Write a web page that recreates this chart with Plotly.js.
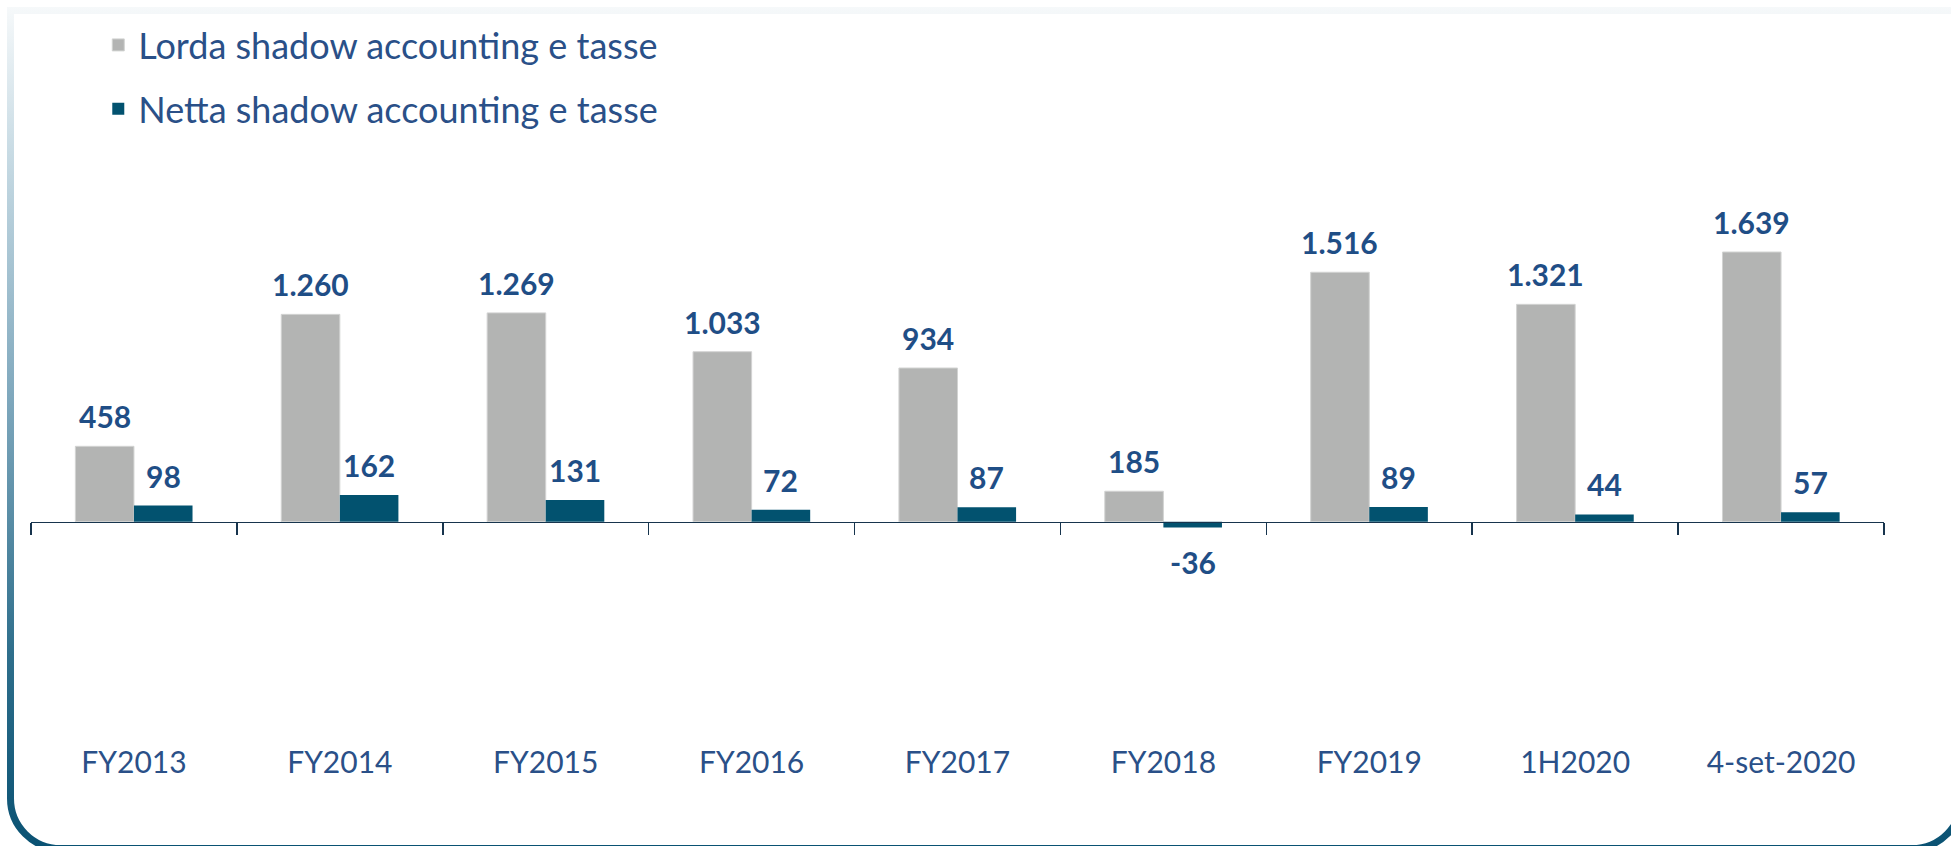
<!DOCTYPE html>
<html><head><meta charset="utf-8">
<script src="https://cdn.plot.ly/plotly-3.0.1.min.js"></script>
<style>
html,body{margin:0;padding:0;background:#fff;}
#wrap{position:relative;width:1951px;height:846px;overflow:hidden;}
#frame{position:absolute;left:0;top:0;}
#chart{position:absolute;left:0;top:0;width:1951px;height:846px;}
</style></head><body>
<div id="wrap">
<svg id="frame" width="1951" height="846" xmlns="http://www.w3.org/2000/svg">
  <defs>
    <linearGradient id="fg" gradientUnits="userSpaceOnUse" x1="0" y1="0" x2="0" y2="846">
      <stop offset="0" stop-color="#f8fafb"/>
      <stop offset="0.18" stop-color="#c8dbe4"/>
      <stop offset="0.47" stop-color="#7fa8bd"/>
      <stop offset="0.77" stop-color="#2f6f8c"/>
      <stop offset="1" stop-color="#0a5273"/>
    </linearGradient>
  </defs>
  <path d="M1962,10.5 H10.5 V798.5 A50,50 0 0 0 60.5,848.5 H1912 A50,50 0 0 0 1962,798.5 Z" fill="none" stroke="url(#fg)" stroke-width="7"/>
</svg>
<div id="chart"></div>
</div>
<script>
// ---- data ----
const categories = ['FY2013','FY2014','FY2015','FY2016','FY2017','FY2018','FY2019','1H2020','4-set-2020'];
const lorda = [458, 1260, 1269, 1033, 934, 185, 1516, 1321, 1639];
const netta = [98, 162, 131, 72, 87, -36, 89, 44, 57];
const seriesNames = ['Lorda shadow accounting e tasse', 'Netta shadow accounting e tasse'];
const seriesColors = ['#B3B4B3', '#02526F'];

// ---- layout constants ----
const W = 1951, H = 846;
const M = {l: 30.7, r: 66.7, t: 10, b: 106};
const BARGAP = 0.431;
const barW = (1 - BARGAP) / 2;
const yRange = [-1327, 3110];
const zeroFrac = (0 - yRange[0]) / (yRange[1] - yRange[0]);
const plotW = W - M.l - M.r, plotH = H - M.t - M.b;
const labelColor = '#1F4E86';
const tickColor = '#2A5088';
const FONT = 'Lato, "Open Sans", sans-serif';

function fmt(v) {
  const s = String(Math.abs(v)).replace(/\B(?=(\d{3})+(?!\d))/g, '.');
  return (v < 0 ? '-' : '') + s;
}

const traces = [
  {
    type: 'bar', name: seriesNames[0], x: categories, y: lorda,
    marker: {color: seriesColors[0], line: {color: '#d2d3d2', width: 1}},
    legendgroup: 'a', hoverinfo: 'skip'
  },
  {
    type: 'bar', name: seriesNames[1], x: categories, y: netta,
    marker: {color: seriesColors[1], line: {width: 0}},
    legendgroup: 'b', hoverinfo: 'skip'
  }
];

const annotations = [];
[lorda, netta].forEach(function (series, s) {
  const off = (s === 0 ? -1 : 1) * barW / 2;
  series.forEach(function (v, i) {
    const neg = v < 0;
    annotations.push({
      xref: 'x', yref: 'y', x: i + off, y: v,
      text: fmt(v), showarrow: false,
      yanchor: neg ? 'top' : 'bottom',
      yshift: neg ? -14 : 10,
      font: {family: FONT, size: 30, color: labelColor, weight: 'bold'}
    });
  });
});

const layout = {
  width: W, height: H,
  margin: {l: M.l, r: M.r, t: M.t, b: M.b, pad: 0, autoexpand: false},
  paper_bgcolor: 'rgba(0,0,0,0)',
  plot_bgcolor: 'rgba(0,0,0,0)',
  barmode: 'group', bargap: BARGAP, bargroupgap: 0,
  showlegend: true,
  legend: {
    x: (98 - M.l) / plotW, y: 1 - (15 - M.t) / plotH, xanchor: 'left', yanchor: 'top',
    orientation: 'v', tracegroupgap: 14,
    font: {family: FONT, size: 36, color: tickColor},
    bgcolor: 'rgba(0,0,0,0)', itemclick: false, itemdoubleclick: false
  },
  xaxis: {
    type: 'category', categoryarray: categories, categoryorder: 'array',
    range: [-0.5, categories.length - 0.5],
    anchor: 'free', position: zeroFrac,
    showline: true, linecolor: '#17344D', linewidth: 1.5,
    ticks: 'outside', tickson: 'boundaries', ticklen: 12,
    tickcolor: '#17344D', tickwidth: 1.5,
    tickangle: 0,
    ticklabelstandoff: 214,
    tickfont: {family: FONT, size: 30, color: tickColor},
    showgrid: false, zeroline: false, fixedrange: true
  },
  yaxis: {
    range: yRange, visible: false, showgrid: false, zeroline: false, fixedrange: true
  },
  annotations: annotations
};

Plotly.newPlot('chart', traces, layout, {displayModeBar: false, staticPlot: true});
</script>
</body></html>
